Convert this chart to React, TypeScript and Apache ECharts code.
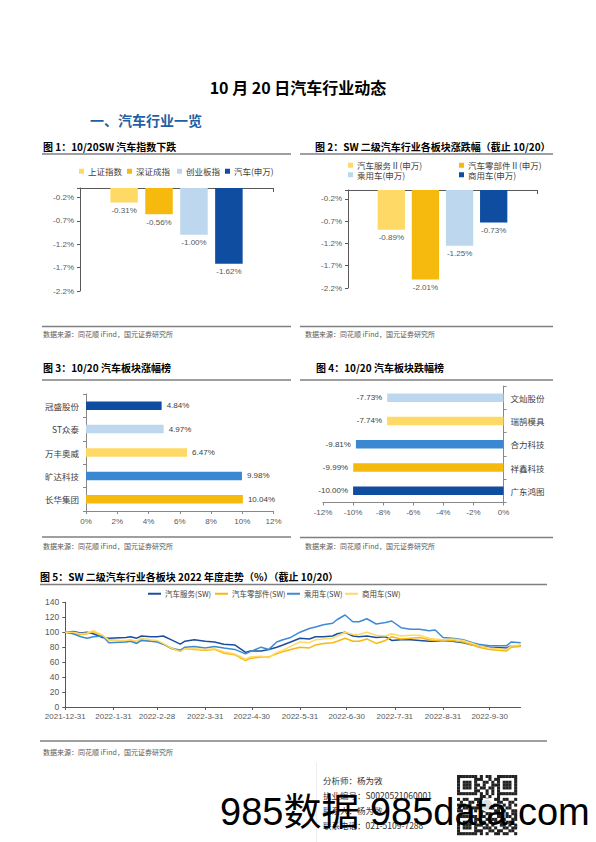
import React, { useEffect, useRef } from 'react';
import * as echarts from 'echarts';

const CJK = '"Noto Sans CJK SC", "Liberation Sans", sans-serif';
const NUM = '"Liberation Sans", "Noto Sans CJK SC", sans-serif';

// ---------- Figure 1 ----------
const fig1Names = ['上证指数', '深证成指', '创业板指', '汽车(申万)'];
const fig1Values = [-0.31, -0.56, -1.0, -1.62];
// ---------- Figure 2 ----------
const fig2Names = ['汽车服务Ⅱ(申万)', '汽车零部件Ⅱ(申万)', '乘用车(申万)', '商用车(申万)'];
const fig2Values = [-0.89, -2.01, -1.25, -0.73];
// ---------- Figure 3 (bottom -> top) ----------
const fig3Names = ['长华集团', '旷达科技', '万丰奥威', 'ST众泰', '冠盛股份'];
const fig3Values = [10.04, 9.98, 6.47, 4.97, 4.84];
// ---------- Figure 4 (bottom -> top) ----------
const fig4Names = ['广东鸿图', '祥鑫科技', '合力科技', '瑞鹄模具', '文灿股份'];
const fig4Values = [-10.0, -9.99, -9.81, -7.74, -7.73];
// ---------- Figure 5 ----------
const fig5Names = ['汽车服务(SW)', '汽车零部件(SW)', '乘用车(SW)', '商用车(SW)'];
const fig5Dates = [
  '2021-12-31', '2022-1-5', '2022-1-10', '2022-1-14', '2022-1-18', '2022-1-24', '2022-1-28',
  '2022-2-8', '2022-2-11', '2022-2-15', '2022-2-18', '2022-2-24', '2022-2-28',
  '2022-3-4', '2022-3-9', '2022-3-15', '2022-3-18', '2022-3-24', '2022-3-31',
  '2022-4-6', '2022-4-12', '2022-4-19', '2022-4-26', '2022-4-29',
  '2022-5-6', '2022-5-11', '2022-5-16', '2022-5-20', '2022-5-25', '2022-5-31',
  '2022-6-6', '2022-6-10', '2022-6-15', '2022-6-21', '2022-6-24', '2022-6-29',
  '2022-7-4', '2022-7-8', '2022-7-13', '2022-7-19', '2022-7-25', '2022-7-29',
  '2022-8-4', '2022-8-10', '2022-8-16', '2022-8-22', '2022-8-26', '2022-8-31',
  '2022-9-6', '2022-9-13', '2022-9-19', '2022-9-23', '2022-9-30',
  '2022-10-11', '2022-10-14', '2022-10-20',
];
const serviceValues = [
  100, 101, 99, 100, 98, 93, 92,
  93, 94, 92, 95, 94, 94,
  95, 90, 84, 88, 90, 88,
  87, 84, 83, 73, 75,
  75, 77, 80, 83, 87, 92,
  91, 94, 94, 95, 98, 100,
  95, 94, 95, 93, 94, 89,
  90, 90, 89, 88, 88, 88,
  88, 86, 83, 82, 80,
  79, 82, 82,
];
const partsValues = [
  100, 99, 97, 98, 101, 95, 90,
  88, 89, 87, 90, 88, 88,
  84, 78, 75, 78, 77, 76,
  77, 72, 70, 62, 65,
  67, 67, 71, 74, 77, 80,
  79, 83, 85, 86, 88, 92,
  88, 88, 91, 85, 89, 94,
  91, 92, 93, 90, 89, 88,
  89, 87, 83, 80, 77,
  75, 80, 81,
];
const passengerValues = [
  100, 98, 94, 92, 94, 95, 86,
  87, 88, 85, 89, 88, 87,
  84, 79, 76, 80, 81, 79,
  81, 79, 77, 71, 74,
  80, 77, 87, 90, 93, 100,
  105, 107, 110, 112, 117, 123,
  114, 114, 118, 111, 113, 115,
  106, 104, 104, 102, 103, 93,
  92, 90, 86, 84, 82,
  82, 87, 86,
];
const commercialValues = [
  100, 100, 98, 99, 102, 96, 89,
  89, 90, 88, 92, 90, 89,
  85, 79, 74, 78, 78, 77,
  78, 74, 71, 64, 67,
  68, 66, 73, 76, 81, 87,
  86, 90, 91, 92, 95, 100,
  97, 97, 100, 96, 95, 98,
  95, 96, 96, 92, 91, 90,
  91, 89, 85, 82, 79,
  77, 82, 83,
];
const fig5Series = [serviceValues, partsValues, passengerValues, commercialValues];

// ---------- colours ----------
const LY = '#FFD966';
const GOLD = '#F6B90E';
const LB = '#BDD7EE';
const DB = '#0E4D9F';
const MB = '#3A87D2';
const fig12Colors = [LY, GOLD, LB, DB];
const fig3Colors = [GOLD, MB, LY, LB, DB];
const fig4Colors = [DB, GOLD, MB, LY, LB];
const fig5Colors = ['#1B4F9C', GOLD, '#3D8AD6', LY];

// calendar-day category axis for figure 5
const calDays: string[] = [];
const monthEnds = new Set<number>();
{
  const start = Date.UTC(2021, 11, 31);
  const end = Date.UTC(2022, 9, 20);
  for (let t = start, i = 0; t <= end; t += 86400000, i++) {
    const d = new Date(t);
    calDays.push(`${d.getUTCFullYear()}-${d.getUTCMonth() + 1}-${d.getUTCDate()}`);
    const n = new Date(t + 86400000);
    if (n.getUTCDate() === 1) monthEnds.add(i);
  }
}

const SRC = '数据来源：同花顺 iFind，国元证券研究所';

const txt = (x: number, y: number, text: string, o: any = {}) => ({
  type: 'text',
  x,
  y,
  silent: true,
  style: {
    text,
    fill: o.fill || '#000',
    fontSize: o.size || 10,
    fontWeight: o.bold ? 'bold' : 'normal',
    fontFamily: o.family || CJK,
    textAlign: o.align || 'left',
    textVerticalAlign: 'middle',
  },
});
const ln = (x1: number, y1: number, x2: number, y2: number, stroke = '#7f7f7f', w = 1.5) => ({
  type: 'line',
  silent: true,
  shape: { x1, y1, x2, y2 },
  style: { stroke, lineWidth: w },
});

// decorative QR code pattern
const QR = [
  '111111101011001111111',
  '100000111001011000001',
  '101110100110101011101',
  '101110110100111011101',
  '101110101101101011101',
  '100000110010101000001',
  '111111101010101111111',
  '000000001101001000000',
  '101100111010011011001',
  '010011010111001100110',
  '111010001101110010101',
  '001101110010101101100',
  '110010101100011010011',
  '000000001011001101011',
  '111111101101001101101',
  '100000110010110010011',
  '101110101101011101100',
  '101110111010100110101',
  '101110100111010011011',
  '100000111001101100110',
  '111111101010011011001',
];
const qrElems: any[] = [];
{
  const x0 = 457, y0 = 775, m = 60 / 21;
  QR.forEach((row, r) => {
    for (let c = 0; c < row.length; c++) {
      if (row[c] === '1') {
        qrElems.push({ type: 'rect', silent: true, shape: { x: x0 + c * m, y: y0 + r * m, width: m + 0.2, height: m + 0.2 }, style: { fill: '#222' } });
      }
    }
  });
  qrElems.push({ type: 'circle', silent: true, shape: { cx: x0 + 30, cy: y0 + 30, r: 6 }, style: { fill: '#ddd', stroke: '#fff', lineWidth: 1.5 } });
}

const axisGray = '#595959';
const lblStyle = { fontSize: 8, color: '#595959', fontFamily: NUM };

const legendItem = (name: string, left: number, top: number, line = false) => ({
  data: [name],
  left,
  top,
  padding: 0,
  itemGap: 0,
  selectedMode: false,
  icon: 'rect',
  itemWidth: line ? 13 : 5,
  itemHeight: line ? 2 : 5,
  textStyle: { fontSize: line ? 7.5 : 8.5, color: '#404040', fontFamily: CJK, padding: [0, 0, 0, -1] },
});

const option: any = {
  animation: false,
  backgroundColor: '#fff',
  grid: [
    { left: 80, top: 188, width: 193, height: 103 },
    { left: 348, top: 190, width: 189, height: 98 },
    { left: 86, top: 394, width: 187.5, height: 117 },
    { left: 323, top: 386, width: 180.5, height: 116.5 },
    { left: 65.3, top: 602.3, width: 455.4, height: 104.7 },
  ],
  legend: [
    legendItem(fig1Names[0], 79, 167),
    legendItem(fig1Names[1], 127, 167),
    legendItem(fig1Names[2], 177, 167),
    legendItem(fig1Names[3], 225, 167),
    legendItem(fig2Names[0], 348, 161),
    legendItem(fig2Names[1], 459, 161),
    legendItem(fig2Names[2], 348, 170.5),
    legendItem(fig2Names[3], 459, 170.5),
    legendItem(fig5Names[0], 148, 590, true),
    legendItem(fig5Names[1], 215, 590, true),
    legendItem(fig5Names[2], 287, 590, true),
    legendItem(fig5Names[3], 345, 590, true),
  ],
  xAxis: [
    {
      gridIndex: 0, type: 'category', data: ['涨跌幅'], position: 'top',
      axisLine: { lineStyle: { color: axisGray } },
      axisTick: { show: true, inside: true, length: 4, lineStyle: { color: axisGray } },
      axisLabel: { show: false },
    },
    {
      gridIndex: 1, type: 'category', data: ['涨跌幅'], position: 'top',
      axisLine: { lineStyle: { color: axisGray } },
      axisTick: { show: true, inside: true, length: 4, lineStyle: { color: axisGray } },
      axisLabel: { show: false },
    },
    {
      gridIndex: 2, type: 'value', min: 0, max: 12, interval: 2,
      axisLine: { show: true, lineStyle: { color: '#888' } },
      axisTick: { show: true, length: 3, lineStyle: { color: '#888' } },
      splitLine: { show: false },
      axisLabel: { ...lblStyle, margin: 6, formatter: (v: number) => `${v}%` },
    },
    {
      gridIndex: 3, type: 'value', min: -12, max: 0, interval: 2,
      axisLine: { show: true, lineStyle: { color: '#888' } },
      axisTick: { show: true, length: 3, lineStyle: { color: '#888' } },
      splitLine: { show: false },
      axisLabel: { ...lblStyle, margin: 6, formatter: (v: number) => `${v}%` },
    },
    {
      gridIndex: 4, type: 'category', data: calDays, boundaryGap: false,
      axisLine: { lineStyle: { color: axisGray } },
      axisTick: { show: true, length: 3, interval: (i: number) => monthEnds.has(i), lineStyle: { color: axisGray } },
      axisLabel: { ...lblStyle, margin: 5, interval: (i: number) => monthEnds.has(i) },
    },
  ],
  yAxis: [
    {
      gridIndex: 0, type: 'value', min: -2.2, max: 0, interval: 0.5,
      axisLine: { show: true, lineStyle: { color: axisGray } },
      axisTick: { show: true, length: 3, lineStyle: { color: axisGray } },
      splitLine: { show: false },
      axisLabel: { ...lblStyle, margin: 6, formatter: (v: number) => (Math.abs(v) < 1e-9 ? '' : `${v.toFixed(1)}%`) },
    },
    {
      gridIndex: 1, type: 'value', min: -2.2, max: 0, interval: 0.5,
      axisLine: { show: true, lineStyle: { color: axisGray } },
      axisTick: { show: true, length: 3, lineStyle: { color: axisGray } },
      splitLine: { show: false },
      axisLabel: { ...lblStyle, margin: 6, formatter: (v: number) => (Math.abs(v) < 1e-9 ? '' : `${v.toFixed(1)}%`) },
    },
    {
      gridIndex: 2, type: 'category', data: fig3Names,
      axisLine: { show: true, lineStyle: { color: '#888' } },
      axisTick: { show: true, length: 3, lineStyle: { color: '#888' } },
      axisLabel: { fontSize: 8.5, color: '#404040', fontFamily: CJK, margin: 7 },
    },
    {
      gridIndex: 3, type: 'category', data: fig4Names, position: 'right',
      axisLine: { show: true, lineStyle: { color: '#888' } },
      axisTick: { show: true, length: 3, lineStyle: { color: '#888' } },
      axisLabel: { fontSize: 8.5, color: '#404040', fontFamily: CJK, margin: 7 },
    },
    {
      gridIndex: 4, type: 'value', min: 0, max: 140, interval: 20,
      axisLine: { show: true, lineStyle: { color: axisGray } },
      axisTick: { show: true, length: 3, lineStyle: { color: axisGray } },
      splitLine: { show: false },
      axisLabel: { ...lblStyle, fontSize: 8.5, margin: 6 },
    },
  ],
  series: [
    ...fig1Names.map((name, i) => ({
      name, type: 'bar', xAxisIndex: 0, yAxisIndex: 0,
      data: [fig1Values[i]], barWidth: 27.5, barGap: '27%',
      itemStyle: { color: fig12Colors[i] },
      label: { show: true, position: 'bottom', distance: 4, ...lblStyle, formatter: (p: any) => `${p.value.toFixed(2)}%` },
    })),
    ...fig2Names.map((name, i) => ({
      name, type: 'bar', xAxisIndex: 1, yAxisIndex: 1,
      data: [fig2Values[i]], barWidth: 27.3, barGap: '25%',
      itemStyle: { color: fig12Colors[i] },
      label: { show: true, position: 'bottom', distance: 4, ...lblStyle, formatter: (p: any) => `${p.value.toFixed(2)}%` },
    })),
    {
      type: 'bar', xAxisIndex: 2, yAxisIndex: 2, barWidth: 8.5,
      data: fig3Values.map((v, i) => ({ value: v, itemStyle: { color: fig3Colors[i] } })),
      label: { show: true, position: 'right', distance: 5, fontSize: 8, color: '#404040', fontFamily: NUM, formatter: (p: any) => `${p.value.toFixed(2)}%` },
    },
    {
      type: 'bar', xAxisIndex: 3, yAxisIndex: 3, barWidth: 8.5,
      data: fig4Values.map((v, i) => ({ value: v, itemStyle: { color: fig4Colors[i] } })),
      label: { show: true, position: 'left', distance: 5, fontSize: 8, color: '#404040', fontFamily: NUM, formatter: (p: any) => `${p.value.toFixed(2)}%` },
    },
    ...fig5Names.map((name, i) => ({
      name, type: 'line', xAxisIndex: 4, yAxisIndex: 4,
      symbol: 'none', smooth: false,
      data: fig5Dates.map((d, k) => [d, fig5Series[i][k]]),
      itemStyle: { color: fig5Colors[i] },
      lineStyle: { color: fig5Colors[i], width: 1.5 },
    })),
  ],
  graphic: {
    elements: [
      txt(298, 87, '10 月 20 日汽车行业动态', { size: 16, bold: true, align: 'center' }),
      txt(90, 120, '一、汽车行业一览', { size: 14, bold: true, fill: '#1F5FA6' }),
      txt(43, 146, '图 1：10/20SW 汽车指数下跌', { size: 10, bold: true }),
      txt(315, 146, '图 2：SW 二级汽车行业各板块涨跌幅（截止 10/20）', { size: 10, bold: true }),
      txt(43, 367, '图 3：10/20 汽车板块涨幅榜', { size: 10, bold: true }),
      txt(316, 367, '图 4：10/20 汽车板块跌幅榜', { size: 10, bold: true }),
      txt(40, 576, '图 5：SW 二级汽车行业各板块 2022 年度走势（%）（截止 10/20）', { size: 10, bold: true }),
      ln(42, 154, 291, 154),
      ln(300, 154, 553, 154),
      ln(42, 380, 291, 380),
      ln(300, 380, 553, 380),
      ln(40, 584.5, 547, 584.5),
      ln(42, 326.5, 291, 326.5),
      ln(300, 326.5, 553, 326.5),
      ln(42, 537, 291, 537),
      ln(300, 537.5, 553, 537.5),
      ln(40, 741, 547, 741),
      txt(43, 334, SRC, { size: 7, fill: '#595959' }),
      txt(305, 334, SRC, { size: 7, fill: '#595959' }),
      txt(43, 546, SRC, { size: 7, fill: '#595959' }),
      txt(305, 546, SRC, { size: 7, fill: '#595959' }),
      txt(43, 752, SRC, { size: 7, fill: '#595959' }),
      ln(316.5, 762, 316.5, 842, '#eeeeee', 1),
      txt(323, 780, '分析师：杨为敩', { size: 8.5, fill: '#333' }),
      txt(323, 795, '执业编号：S0020521060001', { size: 8.5, fill: '#333' }),
      txt(323, 810, '联系人：杨为敩', { size: 8.5, fill: '#333' }),
      txt(323, 825, '联系电话：021-5109-7288', { size: 8.5, fill: '#333' }),
      ...qrElems,
      txt(220, 812, '985数据 985data.com', { size: 38, family: NUM, fill: '#000' }),
    ],
  },
};

export default function App() {
  const ref = useRef<HTMLDivElement>(null);
  useEffect(() => {
    if (!ref.current) return;
    const chart = echarts.init(ref.current, undefined, { renderer: 'svg', width: 596, height: 842 });
    chart.setOption(option);
    return () => chart.dispose();
  }, []);
  return (
    <div
      ref={ref}
      style={{ position: 'absolute', left: 0, top: 0, width: 596, height: 842, background: '#fff' }}
    />
  );
}
